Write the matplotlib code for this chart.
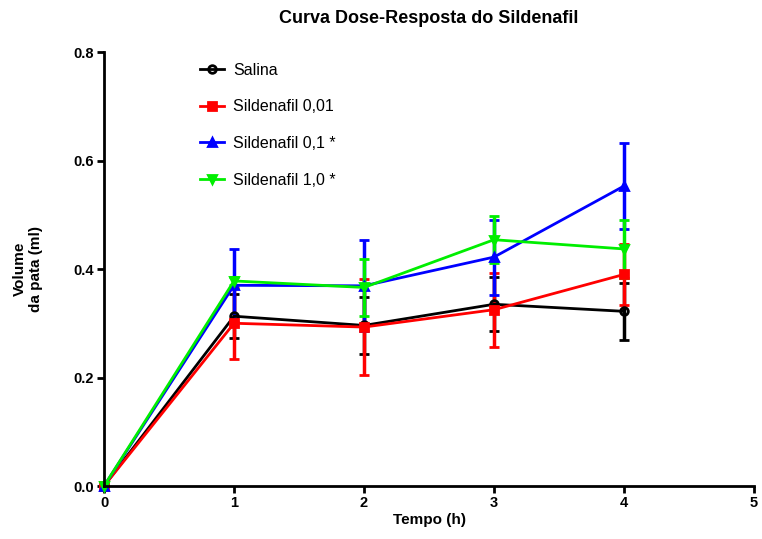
import matplotlib.pyplot as plt
from matplotlib.lines import Line2D

plt.rcParams['font.family'] = ['Liberation Sans', 'DejaVu Sans']

# tempo (h)
tempo = [0, 1, 2, 3, 4]

# media e erro padrao do volume da pata (ml)
salina = [0.0, 0.313, 0.296, 0.335, 0.322]
salina_err = [0.0, 0.041, 0.052, 0.050, 0.052]
sild_001 = [0.0, 0.300, 0.293, 0.325, 0.390]
sild_001_err = [0.0, 0.065, 0.088, 0.068, 0.057]
sild_01 = [0.0, 0.370, 0.369, 0.422, 0.553]
sild_01_err = [0.0, 0.067, 0.084, 0.069, 0.079]
sild_10 = [0.0, 0.378, 0.366, 0.454, 0.437]
sild_10_err = [0.0, 0.008, 0.052, 0.043, 0.053]

labels = ['Salina', 'Sildenafil 0,01', 'Sildenafil 0,1 *', 'Sildenafil 1,0 *']

fig = plt.figure(figsize=(7.62, 5.39), dpi=100)
ax = fig.add_axes([0.1365, 0.0983, 0.853, 0.8052])

series = [
    (salina, salina_err, 'black', 'o', 'none'),
    (sild_001, sild_001_err, '#ff0000', 's', '#ff0000'),
    (sild_01, sild_01_err, '#0000ff', '^', '#0000ff'),
    (sild_10, sild_10_err, '#00ee00', 'v', '#00ee00'),
]
handles = []
for (vals, errs, col, mk, fc), lab in zip(series, labels):
    ax.errorbar(tempo, vals, yerr=errs, color=col, marker=mk, markerfacecolor=fc,
                markeredgecolor=col, markeredgewidth=2, markersize=5.5, linewidth=2,
                elinewidth=2.5, capsize=3.5, capthick=2.5, clip_on=False)
    handles.append(Line2D([], [], color=col, marker=mk, markerfacecolor=fc,
                          markeredgecolor=col, markeredgewidth=2, markersize=5.5,
                          linewidth=2, label=lab))

ax.set_xlim(0, 5)
ax.set_ylim(0, 0.8)
ax.set_xticks([0, 1, 2, 3, 4, 5])
ax.set_yticks([0.0, 0.2, 0.4, 0.6, 0.8])
ax.set_yticklabels(['0.0', '0.2', '0.4', '0.6', '0.8'])

for s in ['top', 'right']:
    ax.spines[s].set_visible(False)
for s in ['left', 'bottom']:
    ax.spines[s].set_linewidth(2)
ax.tick_params(width=2, length=5, labelsize=10.5, pad=2)
for t in ax.get_xticklabels() + ax.get_yticklabels():
    t.set_fontweight('bold')

ax.set_title('Curva Dose-Resposta do Sildenafil', fontsize=13, fontweight='bold', pad=21)
ax.set_xlabel('Tempo (h)', fontsize=11, fontweight='bold', labelpad=2)
ax.set_ylabel('Volume\nda pata (ml)', fontsize=11, fontweight='bold', labelpad=22)

leg = ax.legend(handles=handles, loc='upper left', bbox_to_anchor=(0.125, 1.008),
                frameon=False, fontsize=11.5, labelspacing=1.35, handlelength=1.5,
                handletextpad=0.6, numpoints=1)

plt.savefig('out.png', dpi=100)
